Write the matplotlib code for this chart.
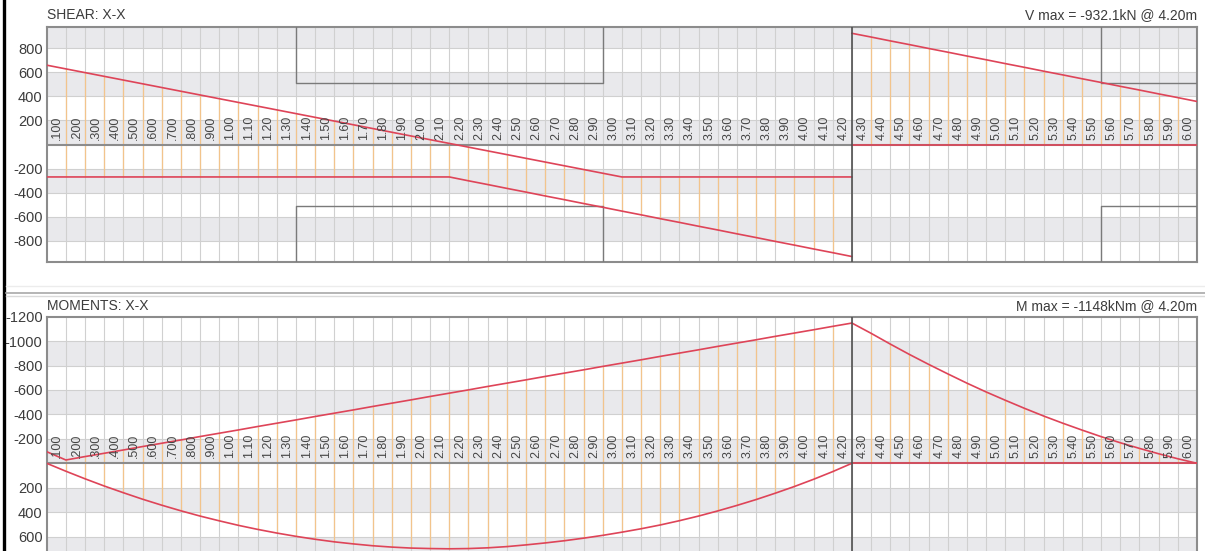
import numpy as np
import matplotlib
matplotlib.use("Agg")
import matplotlib.pyplot as plt
from matplotlib.transforms import offset_copy
from matplotlib.lines import Line2D

plt.rcParams['font.family'] = ['Liberation Sans', 'DejaVu Sans']

# ---------------------------------------------------------------- data
# design stations along the beam (m): span 0.0-4.2, cantilever 4.2-6.0
span_x = np.round(np.arange(0.0, 4.21, 0.1), 1)
cant_x = np.round(np.arange(4.2, 6.01, 0.1), 1)

# shear envelope (kN)
shear_max_span = [660, 629, 598, 567, 536, 505, 474, 443, 412, 381,
                  350, 319, 288, 257, 226, 195, 164, 133, 102, 71,
                  40, 9, -22, -53, -84, -115, -146, -177, -208, -239,
                  -270, -270, -270, -270, -270, -270, -270, -270, -270, -270,
                  -270, -270, -270]
shear_min_span = [-270, -270, -270, -270, -270, -270, -270, -270, -270, -270,
                  -270, -270, -270, -270, -270, -270, -270, -270, -270, -270,
                  -270, -270, -302, -333, -365, -396, -428, -459, -491, -522,
                  -554, -585, -617, -648, -680, -711, -743, -774, -806, -837,
                  -869, -900, -932]
shear_max_cant = [925, 894, 862, 831, 799, 768, 736, 705, 673, 642,
                  610, 579, 547, 516, 484, 453, 421, 390, 358]
shear_min_cant = [0] * 19

# shear capacity steps (kN) and where they change (m)
shear_capacity = 508
capacity_zones = [(1.30, 2.90), (5.50, 6.00)]

# bending moment envelope (kNm), hogging negative
moment_hog_span = [-95, -27, -55, -82, -109, -137, -164, -191, -219, -246,
                   -273, -301, -328, -355, -383, -410, -437, -465, -492, -519,
                   -547, -574, -601, -629, -656, -683, -711, -738, -765, -793,
                   -820, -847, -875, -902, -929, -957, -984, -1011, -1039, -1066,
                   -1093, -1121, -1148]
moment_sag_span = [0, 65, 127, 186, 241, 294, 343, 389, 432, 471,
                   508, 541, 571, 598, 622, 643, 660, 675, 686, 694,
                   698, 700, 698, 692, 682, 668, 652, 634, 613, 590,
                   564, 536, 505, 470, 432, 390, 345, 297, 245, 190,
                   131, 68, 0]
moment_hog_cant = [-1148, -1064, -976, -891, -810, -732, -656, -584, -516, -450,
                   -387, -328, -272, -218, -168, -122, -78, -37, 0]
moment_sag_cant = [0] * 19

support_x = 4.2

shear_ticks = [-800, -600, -400, -200, 200, 400, 600, 800]
moment_ticks = [-1200, -1000, -800, -600, -400, -200, 200, 400, 600]
shear_bands = [(800, 1000), (400, 600), (0, 200), (-400, -200), (-800, -600)]
moment_bands = [(-1000, -800), (-600, -400), (-200, 0), (200, 400), (600, 800)]

shear_title = "SHEAR: X-X"
shear_note = "V max = -932.1kN @ 4.20m"
moment_title = "MOMENTS: X-X"
moment_note = "M max = -1148kNm @ 4.20m"

# ---------------------------------------------------------------- styling
RED = '#de4458'
HATCH = '#f2c48c'
GRID = '#d0d0d0'
BAND = '#e9e9ec'
FRAME = '#8c8c8c'
TEXT = '#3c3c3c'

W, H = 1205, 551
fig = plt.figure(figsize=(W / 100, H / 100), dpi=100)


def px_rect(left, top, right, bottom):
    return [left / W, 1 - bottom / H, (right - left) / W, (bottom - top) / H]


def station_label(x):
    return f"{x:.3f}"[1:] if x < 1 else f"{x:.2f}"


def draw_panel(ax, ylim, bands, ticks, span_hi, span_lo, cant_hi, cant_lo):
    ax.set_xlim(0, 6.0)
    ax.set_ylim(*ylim)
    lo_v, hi_v = min(ylim), max(ylim)
    for b0, b1 in bands:
        ax.axhspan(b0, b1, color=BAND, lw=0, zorder=0)
    all_x = np.concatenate([span_x, cant_x[1:]])
    for x in all_x[1:-1]:
        ax.axvline(x, color=GRID, lw=0.8, zorder=1)
    for y in range(-1200, 1201, 200):
        if lo_v < y < hi_v and y != 0:
            ax.axhline(y, color=GRID, lw=0.8, zorder=1)

    # hatch between envelope curves at each station
    ax.vlines(span_x[1:-1], np.array(span_lo)[1:-1], np.array(span_hi)[1:-1],
              color=HATCH, lw=0.9, zorder=2)
    ax.vlines(cant_x[1:], np.array(cant_lo)[1:], np.array(cant_hi)[1:],
              color=HATCH, lw=0.9, zorder=2)

    ax.axhline(0, color=FRAME, lw=1.5, zorder=3)
    ax.plot(span_x, span_hi, color=RED, lw=1.2, zorder=5)
    ax.plot(span_x, span_lo, color=RED, lw=1.2, zorder=5)
    ax.plot(cant_x, cant_hi, color=RED, lw=1.2, zorder=5)
    ax.plot(cant_x, cant_lo, color=RED, lw=1.2, zorder=5)
    ax.axvline(support_x, color='#505050', lw=1.2, zorder=6)

    ax.set_xticks([])
    ax.set_yticks(ticks)
    ax.set_yticklabels([str(t) for t in ticks])
    ax.tick_params(axis='y', length=0, pad=3, labelsize=10.5, labelcolor=TEXT)
    for sp in ax.spines.values():
        sp.set_color(FRAME)
        sp.set_linewidth(1.5)

    trans = offset_copy(ax.transData, fig=fig, x=-2.5, y=5, units='dots')
    for x in all_x[1:]:
        ax.text(x, 0, station_label(x), rotation=90, ha='right', va='bottom',
                fontsize=9, color='#454545', transform=trans, zorder=7)


# shear diagram
ax_v = fig.add_axes(px_rect(46.7, 26.7, 1197, 261.7))
draw_panel(ax_v, (-975, 980), shear_bands, shear_ticks,
           shear_max_span, shear_min_span, shear_max_cant, shear_min_cant)
for x0, x1 in capacity_zones:
    ax_v.plot([x0, x0, x1, x1], [1000, shear_capacity, shear_capacity, 1000],
              color='#7a7a7a', lw=1.0, zorder=4)
    ax_v.plot([x0, x0, x1, x1], [-1000, -shear_capacity, -shear_capacity, -1000],
              color='#7a7a7a', lw=1.0, zorder=4)

# moment diagram (hogging plotted upward)
ax_m = fig.add_axes(px_rect(46.7, 316.7, 1197, 551))
draw_panel(ax_m, (718, -1200), moment_bands, moment_ticks,
           moment_hog_span, moment_sag_span, moment_hog_cant, moment_sag_cant)
ax_m.spines['bottom'].set_visible(False)

# titles and peak values
fig.text(47 / W, 1 - 15 / H, shear_title, fontsize=10, color=TEXT,
         ha='left', va='center')
fig.text(1197 / W, 1 - 15 / H, shear_note, fontsize=10, color=TEXT,
         ha='right', va='center')
fig.text(47 / W, 1 - 306.5 / H, moment_title, fontsize=10, color=TEXT,
         ha='left', va='center')
fig.text(1197 / W, 1 - 306.5 / H, moment_note, fontsize=10, color=TEXT,
         ha='right', va='center')

# window frame: left border and splitter between the diagrams
fig.add_artist(Line2D([3.5 / W, 3.5 / W], [0, 1], color='black', lw=2.4))
fig.add_artist(Line2D([6 / W, 1], [1 - 286 / H] * 2, color='#ececec', lw=1.0))
fig.add_artist(Line2D([6 / W, 1], [1 - 293 / H] * 2, color='#a8a8a8', lw=1.2))
fig.add_artist(Line2D([6 / W, 1], [1 - 295.5 / H] * 2, color='#dadada', lw=1.0))

fig.savefig('out.png', dpi=100, facecolor='white')
